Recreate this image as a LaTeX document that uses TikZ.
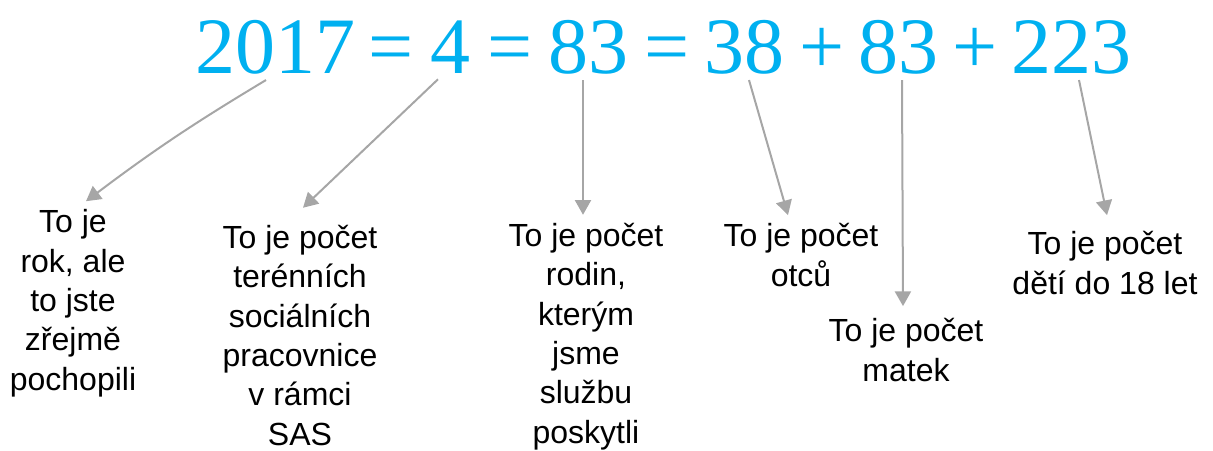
\documentclass[tikz,border=0pt]{standalone}
\usepackage{fontspec}
\setmainfont{Liberation Sans}
\newfontfamily\numfont{Liberation Serif}
\usetikzlibrary{arrows.meta}
\definecolor{numblue}{HTML}{00B0F0}
\definecolor{pointergray}{HTML}{A6A6A6}
\tikzset{
  term/.style={font=\numfont\fontsize{60}{60}\selectfont, text=numblue, anchor=base, inner sep=4.5pt},
  note/.style={font=\fontsize{24}{29.5}\selectfont, align=center, anchor=base, inner sep=6pt},
  pointer/.style={draw=pointergray, line width=1.5pt, -{Triangle[length=11pt,width=12pt]}}
}
\begin{document}
\begin{tikzpicture}[x=0.75pt,y=-0.75pt]
\useasboundingbox (0,0) rectangle (1213,450);
\node[term] (y2017) at (275,73) {2017};
\node[term] (eqA) at (391,73) {=};
\node[term] (n4) at (450,73) {4};
\node[term] (eqB) at (510,73) {=};
\node[term] (n83) at (588,73) {83};
\node[term] (eqC) at (667,73) {=};
\node[term] (n38) at (744,73) {38};
\node[term] (plusA) at (822,73) {+};
\node[term] (n83b) at (898,73) {83};
\node[term] (plusB) at (975,73) {+};
\node[term] (n223) at (1071,73) {223};

\node[note] (rok) at (73,390) {To je\\rok, ale\\to jste\\zřejmě\\pochopili};
\node[note] (sas) at (300,445) {To je počet\\terénních\\sociálních\\pracovnice\\v rámci\\SAS};
\node[note] (rodiny) at (586,443) {To je počet\\rodin,\\kterým\\jsme\\službu\\poskytli};
\node[note] (otcove) at (801,286) {To je počet\\otců};
\node[note] (matky) at (906,381) {To je počet\\matek};
\node[note] (deti) at (1105,294) {To je počet\\dětí do 18 let};

\draw[pointer] ([xshift=-6.75pt]y2017.south) to[bend right=3] ([xshift=9.75pt]rok.north);
\draw[pointer] ([xshift=-9pt]n4.south) -- ([xshift=2.25pt,yshift=6.75pt]sas.north);
\draw[pointer] ([xshift=-3.75pt]n83.south) -- ([xshift=-2.25pt]rodiny.north);
\draw[pointer] ([xshift=3.75pt]n38.south) -- ([xshift=-9.75pt]otcove.north);
\draw[pointer] ([xshift=3pt]n83b.south) -- ([xshift=-2.25pt,yshift=3pt]matky.north);
\draw[pointer] ([xshift=6pt]n223.south) -- ([xshift=1.5pt,yshift=6pt]deti.north);
\end{tikzpicture}
\end{document}
